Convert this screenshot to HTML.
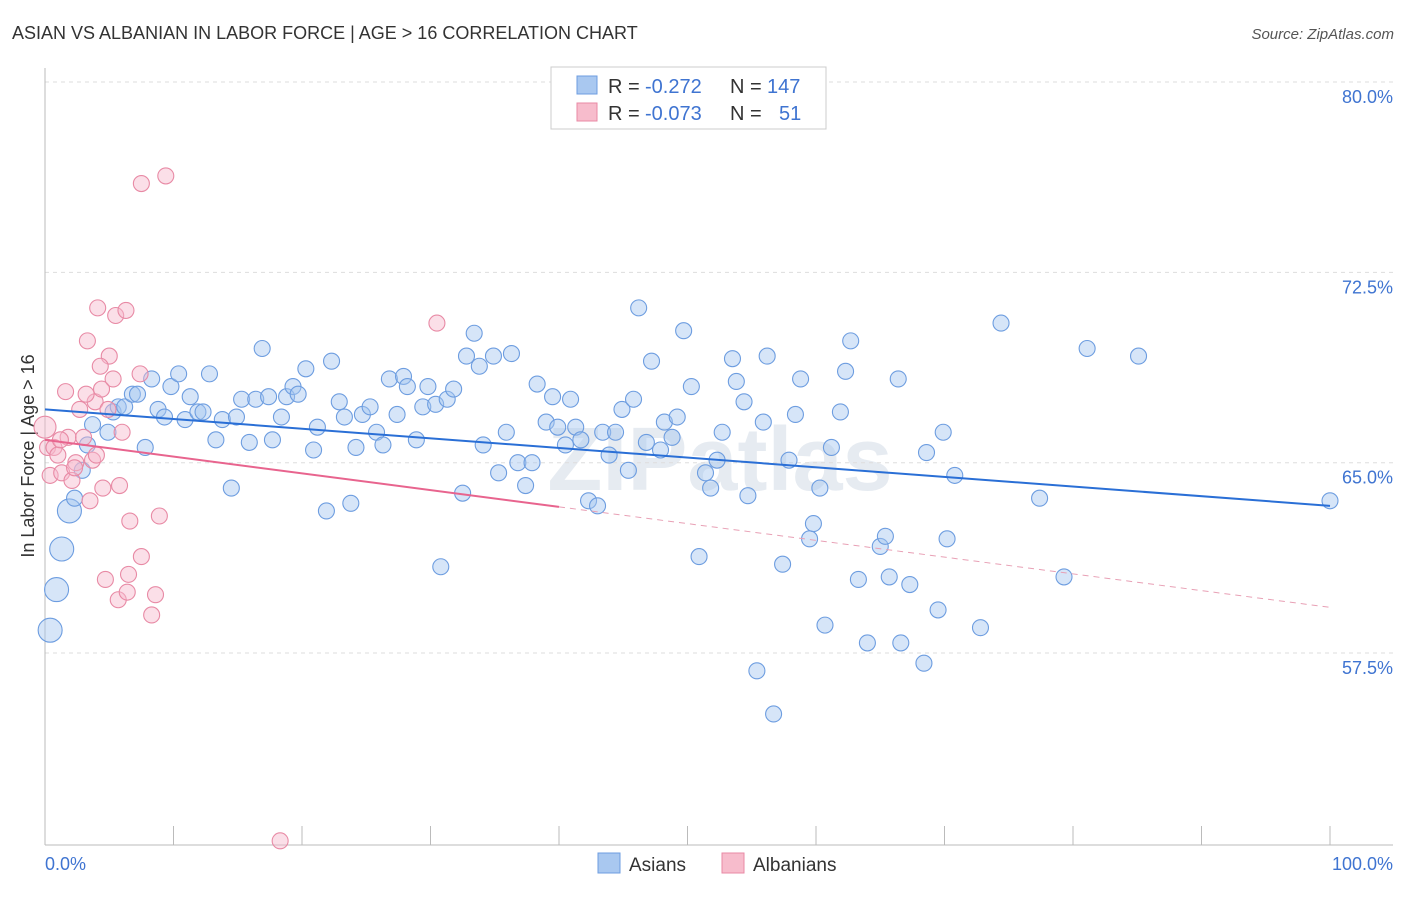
<!DOCTYPE html>
<html><head><meta charset="utf-8"><style>
body{margin:0;background:#fff;font-family:"Liberation Sans",sans-serif}
svg text{font-family:"Liberation Sans",sans-serif}
</style></head><body>
<svg id="chart" width="1406" height="892" xmlns="http://www.w3.org/2000/svg">
<text x="12" y="39" font-size="18" fill="#333">ASIAN VS ALBANIAN IN LABOR FORCE | AGE &gt; 16 CORRELATION CHART</text>
<text x="1394" y="39" font-size="15" fill="#555" text-anchor="end" font-style="italic">Source: ZipAtlas.com</text>
<text x="0" y="0" transform="translate(34,456) rotate(-90)" font-size="18" fill="#333" text-anchor="middle">In Labor Force | Age &gt; 16</text>
<text x="720" y="490" font-size="90" fill="#e6ebf1" text-anchor="middle" font-weight="bold">ZIPatlas</text>
<g id="grid"></g>
<g id="axes"></g>
<g id="pts"></g>
<g id="trends"></g>
<g>
<rect x="551" y="67" width="275" height="62" fill="#fff" stroke="#ccc"/>
<rect x="577" y="76" width="20" height="18" fill="#a9c8f0" stroke="#6d9de0"/>
<text x="608" y="93" font-size="20" fill="#333">R =</text>
<text x="645" y="93" font-size="20" fill="#3f74d1">-0.272</text>
<text x="730" y="93" font-size="20" fill="#333">N =</text>
<text x="767" y="93" font-size="20" fill="#3f74d1">147</text>
<rect x="577" y="103" width="20" height="18" fill="#f7bccc" stroke="#e88aa5"/>
<text x="608" y="120" font-size="20" fill="#333">R =</text>
<text x="645" y="120" font-size="20" fill="#3f74d1">-0.073</text>
<text x="730" y="120" font-size="20" fill="#333">N =</text>
<text x="779" y="120" font-size="20" fill="#3f74d1">51</text>
</g>
<g>
<rect x="598" y="853" width="22" height="20" fill="#a9c8f0" stroke="#6d9de0"/>
<text x="629" y="871" font-size="19" fill="#333">Asians</text>
<rect x="722" y="853" width="22" height="20" fill="#f7bccc" stroke="#e88aa5"/>
<text x="753" y="871" font-size="19" fill="#333">Albanians</text>
</g>
</svg>
<script>
const yTicks=[80,72.5,65,57.5];
const yTickLabels=["80.0%","72.5%","65.0%","57.5%"];
const xTickVals=[0,10,20,30,40,50,60,70,80,90,100];
const asianX=[1.9,1.3,0.9,0.4,2.3,2.9,3.3,3.7,4.9,5.3,5.7,6.2,6.8,7.2,7.8,8.3,8.8,9.3,9.8,10.4,10.9,11.3,11.9,12.3,12.8,13.3,13.8,14.5,14.9,15.3,15.9,16.4,16.9,17.4,17.7,18.4,18.8,19.3,19.7,20.3,20.9,21.2,21.9,22.3,22.9,23.3,23.8,24.2,24.7,25.3,25.8,26.3,26.8,27.4,27.9,28.2,28.9,29.4,29.8,30.4,30.8,31.3,31.8,32.5,32.8,33.4,33.8,34.1,34.9,35.3,35.9,36.3,36.8,37.4,37.9,38.3,39.0,39.5,39.9,40.5,40.9,41.3,41.7,42.3,43.0,43.4,43.9,44.4,44.9,45.4,45.8,46.2,46.8,47.2,47.9,48.2,48.8,49.2,49.7,50.3,50.9,51.4,51.8,52.3,52.7,53.5,53.8,54.4,54.7,55.4,55.9,56.2,56.7,57.4,57.9,58.4,58.8,59.5,59.8,60.3,60.7,61.2,61.9,62.3,62.7,63.3,64.0,65.0,65.4,65.7,66.4,66.6,67.3,68.6,68.4,69.5,69.9,70.2,70.8,72.8,74.4,77.4,79.3,81.1,85.1,100];
const asianY=[63.1,61.6,60.0,58.4,63.6,64.7,65.7,66.5,66.2,67.0,67.2,67.2,67.7,67.7,65.6,68.3,67.1,66.8,68.0,68.5,66.7,67.6,67.0,67.0,68.5,65.9,66.7,64.0,66.8,67.5,65.8,67.5,69.5,67.6,65.9,66.8,67.6,68.0,67.7,68.7,65.5,66.4,63.1,69.0,67.4,66.8,63.4,65.6,66.9,67.2,66.2,65.7,68.3,66.9,68.4,68.0,65.9,67.2,68.0,67.3,60.9,67.5,67.9,63.8,69.2,70.1,68.8,65.7,69.2,64.6,66.2,69.3,65.0,64.1,65.0,68.1,66.6,67.6,66.4,65.7,67.5,66.4,65.9,63.5,63.3,66.2,65.3,66.2,67.1,64.7,67.5,71.1,65.8,69.0,65.5,66.6,66.0,66.8,70.2,68.0,61.3,64.6,64.0,65.1,66.2,69.1,68.2,67.4,63.7,56.8,66.6,69.2,55.1,61.0,65.1,66.9,68.3,62.0,62.6,64.0,58.6,65.6,67.0,68.6,69.8,60.4,57.9,61.7,62.1,60.5,68.3,57.9,60.2,65.4,57.1,59.2,66.2,62.0,64.5,58.5,70.5,63.6,60.5,69.5,69.2,63.5];
const albX=[0,0.2,0.4,0.7,1.0,1.3,1.6,1.8,2.1,2.4,2.7,3.0,3.3,3.5,3.7,3.9,4.0,4.1,4.4,4.5,4.7,4.9,5.0,5.3,5.5,5.7,5.8,6.0,6.3,6.4,6.5,6.6,7.5,7.5,7.4,8.3,8.6,8.9,9.4,18.3,30.5,1.2,2.3,3.2,4.3];
const albY=[66.4,65.6,64.5,65.6,65.3,64.6,67.8,66.0,64.3,65.0,67.1,66.0,69.8,63.5,65.1,67.4,65.3,71.1,67.9,64.0,60.4,67.1,69.2,68.3,70.8,59.6,64.1,66.2,71.0,59.9,60.6,62.7,76.0,61.3,68.5,59.0,59.8,62.9,76.3,50.1,70.5,65.9,64.8,67.7,68.8];
const asianTrend=[67.1,63.3];
const albTrend=[65.9,59.3];
const ns="http://www.w3.org/2000/svg";
const X=v=>45+v*12.85;
const Y=v=>82+(80-v)*25.38;
function mk(t,a,p){const e=document.createElementNS(ns,t);for(const k in a)e.setAttribute(k,a[k]);p.appendChild(e);return e;}
const grid=document.getElementById('grid'),axes=document.getElementById('axes'),pts=document.getElementById('pts'),tr=document.getElementById('trends');
yTicks.forEach((t,i)=>{
 const l=mk('line',{x1:45,x2:1393,y1:Y(t),y2:Y(t),stroke:'#ddd','stroke-dasharray':'4,4'},grid);
 
 
 const tx=mk('text',{x:1393,y:Y(t)+21,'font-size':18,fill:'#3f74d1','text-anchor':'end'},grid);
 tx.textContent=yTickLabels[i];
 
 
});
mk('line',{x1:45,x2:45,y1:68,y2:845,stroke:'#bbb'},axes);
mk('line',{x1:45,x2:1393,y1:845,y2:845,stroke:'#bbb'},axes);
xTickVals.forEach(v=>{
 const l=mk('line',{x1:X(v),x2:X(v),y1:826,y2:845,stroke:'#bbb'},axes);
 
 
});
const xl0=mk('text',{x:45,y:870,'font-size':18,fill:'#3f74d1'},axes);xl0.textContent='0.0%';


const xl1=mk('text',{x:1393,y:870,'font-size':18,fill:'#3f74d1','text-anchor':'end'},axes);xl1.textContent='100.0%';


asianX.forEach((x,i)=>{
 const c=mk('circle',{cx:X(x),cy:Y(asianY[i]),r:i<4?12:8,fill:'rgba(165,198,240,0.45)',stroke:'#6d9de0','stroke-width':1.1},pts);
 
 
});
albX.forEach((x,i)=>{
 const c=mk('circle',{cx:X(x),cy:Y(albY[i]),r:i==0?11:8,fill:'rgba(247,185,205,0.45)',stroke:'#e88aa5','stroke-width':1.1},pts);
 
 
});
const bl=mk('line',{x1:X(0),y1:Y(asianTrend[0]),x2:X(100),y2:Y(asianTrend[1]),stroke:'#2a6fd6','stroke-width':2},tr);


const pAt=v=>albTrend[0]+(albTrend[1]-albTrend[0])*v/100;
const pl=mk('line',{x1:X(0),y1:Y(pAt(0)),x2:X(40),y2:Y(pAt(40)),stroke:'#e8648e','stroke-width':2},tr);


const pd=mk('line',{x1:X(40),y1:Y(pAt(40)),x2:X(100),y2:Y(pAt(100)),stroke:'#e8a0b5','stroke-width':1,'stroke-dasharray':'6,5'},tr);


</script>
</body></html>
